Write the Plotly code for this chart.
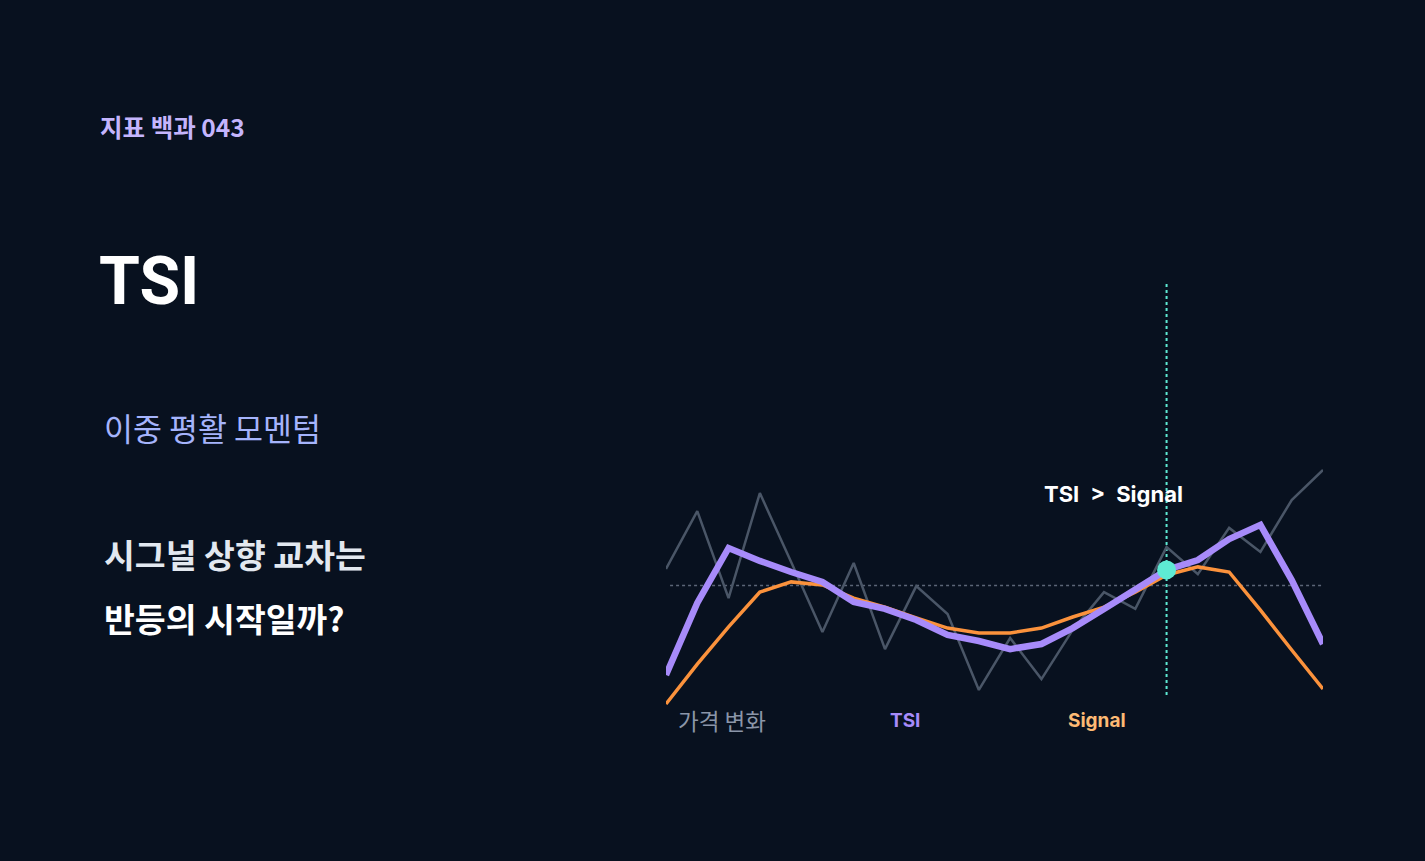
import plotly.graph_objects as go

# ---- data ----
steps = list(range(22))
price_change = [5.5, 24.8, -4.2, 30.8, 7.8, -15.5, 7.5, -21.2, -0.2, -9.5, -34.8,
                -17.5, -31.2, -14.8, -2.2, -7.8, 12.8, 3.8, 19.2, 11.2, 28.5, 38.5]
tsi = [-29.8, -5.8, 12.5, 8.2, 4.5, 1.2, -5.5, -7.8, -11.5, -16.5, -18.5,
       -21.2, -19.5, -14.2, -7.8, -1.5, 5.2, 8.5, 15.5, 20.2, 1.8, -19.5]
signal = [-39.5, -26.2, -13.8, -2.2, 1.2, 0.2, -4.2, -7.2, -10.8, -14.2, -15.8,
          -15.8, -14.2, -10.5, -7.2, -2.2, 3.5, 6.2, 4.5, -8.2, -21.5, -34.5]
cross_index = 16
legend_labels = ["가격 변화", "TSI", "Signal"]

W, H = 1425, 861
BG = "#08111f"
FONT = "Inter, 'Noto Sans CJK KR', sans-serif"
KFONT = "'Noto Sans CJK KR', Inter, sans-serif"

def px(x):
    return x / W

def py(y):
    return 1 - y / H

fig = go.Figure()
fig.add_trace(go.Scatter(x=steps, y=price_change, mode="lines",
                         line=dict(color="#4a5667", width=2.5), hoverinfo="skip"))
fig.add_trace(go.Scatter(x=steps, y=signal, mode="lines",
                         line=dict(color="#fb923c", width=3.5), hoverinfo="skip"))
fig.add_trace(go.Scatter(x=steps, y=tsi, mode="lines",
                         line=dict(color="#a78bfa", width=6.5), hoverinfo="skip"))
fig.add_trace(go.Scatter(x=[steps[cross_index]], y=[tsi[cross_index]], mode="markers",
                         marker=dict(color="#5eead4", size=19), hoverinfo="skip"))

# zero line
fig.add_shape(type="line", xref="x", yref="y", x0=0.13, x1=21.06, y0=0, y1=0,
              line=dict(color="#5b6677", width=1.5, dash="dot"), layer="below")
# crossover vertical
fig.add_shape(type="line", xref="x", yref="y", x0=cross_index, x1=cross_index,
              y0=-36.5, y1=101.2, line=dict(color="#5eead4", width=2, dash="dot"),
              layer="below")

ann = []
def text(x, y, s, size, color, weight="normal", family=FONT, anchor="left"):
    ann.append(dict(x=px(x), y=py(y), xref="paper", yref="paper", text=s,
                    showarrow=False, xanchor=anchor, yanchor="middle",
                    font=dict(size=size, color=color, family=family, weight=weight)))

text(98, 126, "지표 백과 043", 24.5, "#c4b5fd", "bold", KFONT)
text(97, 281, "TSI", 66, "#ffffff", "bold", "Roboto, Inter, sans-serif")
text(102, 427, "이중 평활 모멘텀", 31.5, "#a5b4fc", "normal", KFONT)
text(102, 553, "시그널 상향 교차는", 33.5, "#e2e8f0", "bold", KFONT)
text(102, 617, "반등의 시작일까?", 33.5, "#ffffff", "bold", KFONT)
text(1042, 494, "TSI\u2002>\u2002Signal", 22, "#ffffff", "bold", FONT)
text(676, 720, legend_labels[0], 22.5, "#8b96a8", "normal", KFONT)
text(888, 720, legend_labels[1], 19, "#a78bfa", "bold", FONT)
text(1066, 720, legend_labels[2], 19, "#fdba74", "bold", FONT)

y_top, y_bot = 270, 720
fig.update_layout(
    width=W, height=H, autosize=False,
    margin=dict(l=0, r=0, t=0, b=0),
    paper_bgcolor=BG, plot_bgcolor=BG,
    showlegend=False,
    annotations=ann,
    xaxis=dict(domain=[px(666), px(1323)], range=[0, 21], visible=False, fixedrange=True),
    yaxis=dict(domain=[py(y_bot), py(y_top)],
               range=[(585.5 - y_bot) / 3, (585.5 - y_top) / 3],
               visible=False, fixedrange=True),
)

fig.write_html("out.html", config={"displayModeBar": False},
               post_script="document.body.style.margin='0';document.body.style.background='%s';" % BG)
